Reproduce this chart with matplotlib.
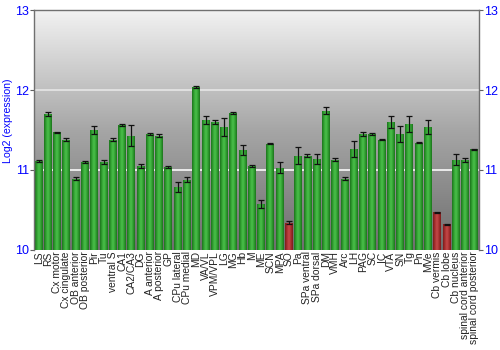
import numpy as np
import matplotlib
matplotlib.use("Agg")
import matplotlib.pyplot as plt
from matplotlib.colors import LinearSegmentedColormap

categories = ["LS", "RS", "Cx motor", "Cx cingulate", "OB anterior", "OB posterior", "Pir", "Tu",
              "ventral S", "CA1", "CA2/CA3", "DG", "A anterior", "A posterior", "GP", "CPu lateral",
              "CPu medial", "MD", "VA/VL", "VPM/VPL", "LG", "MG", "Hb", "M", "ME", "SCN", "MPA", "SO",
              "Pa", "SPa ventral", "SPa dorsal", "DM", "VMH", "Arc", "LH", "PAG", "SC", "IC", "VTA",
              "SN", "Tg", "Pn", "MVe", "Cb vermis", "Cb lobe", "Cb nucleus", "spinal cord anterior",
              "spinal cord posterior"]
values = [11.11, 11.70, 11.47, 11.38, 10.89, 11.10, 11.50, 11.10,
          11.38, 11.56, 11.43, 11.05, 11.45, 11.43, 11.04, 10.79,
          10.88, 12.04, 11.62, 11.60, 11.54, 11.71, 11.25, 11.05, 10.58, 11.33, 11.03, 10.34,
          11.18, 11.18, 11.14, 11.74, 11.13, 10.89, 11.26, 11.45, 11.45, 11.38, 11.60,
          11.45, 11.58, 11.34, 11.54, 10.47, 10.32, 11.13, 11.125,
          11.26]
errors = [0.01, 0.02, 0.01, 0.02, 0.02, 0.01, 0.05, 0.02,
          0.015, 0.01, 0.13, 0.02, 0.01, 0.015, 0.01, 0.06,
          0.03, 0.01, 0.05, 0.03, 0.11, 0.01, 0.06, 0.01, 0.05, 0.01, 0.07, 0.02,
          0.11, 0.02, 0.06, 0.045, 0.02, 0.02, 0.10, 0.03, 0.01, 0.01, 0.07,
          0.10, 0.10, 0.005, 0.085, 0.01, 0.01, 0.07, 0.03,
          0.005]
low_flags = ["SO", "Cb vermis", "Cb lobe"]
yticks = [10, 11, 12, 13]

plt.rcParams['font.family'] = ['Liberation Sans', 'DejaVu Sans']

fig = plt.figure(figsize=(5, 3.5), dpi=100)
ax = fig.add_axes([0.068, 0.286, 0.890, 0.685])

ymin, ymax = 10, 13
n = len(categories)
x = np.arange(n)
ax.set_xlim(-0.5, n - 0.5)
ax.set_ylim(ymin, ymax)

# background gradient
bg = LinearSegmentedColormap.from_list("bg", ["#6e6e6e", "#a6a6a6", "#f2f2f2"])
grad = np.linspace(0, 1, 256).reshape(-1, 1)
ax.imshow(grad, cmap=bg, aspect="auto", extent=[-0.5, n - 0.5, ymin, ymax],
          origin="lower", zorder=0)
for yv in [11, 12]:
    ax.axhline(yv, color="white", lw=1.2, zorder=1, alpha=0.95 if yv == 11 else 0.6)

green = LinearSegmentedColormap.from_list("g", ["#1c721c", "#32a232", "#4cc04c", "#32a232", "#1c721c"])
red = LinearSegmentedColormap.from_list("r", ["#7c1c1c", "#a83030", "#c44a4a", "#a83030", "#7c1c1c"])
hgrad = np.linspace(0, 1, 64).reshape(1, -1)
width = 0.86
bars = ax.bar(x, np.array(values) - ymin, bottom=ymin, width=width, color="none",
              edgecolor="none", zorder=2)
for xi, cat, val, b in zip(x, categories, values, bars):
    cmap = red if cat in low_flags else green
    im = ax.imshow(hgrad, cmap=cmap, aspect="auto",
                   extent=[xi - width / 2, xi + width / 2, ymin, val], zorder=2)
    im.set_clip_path(b)

ax.errorbar(x, values, yerr=errors, fmt="none", ecolor="#111111", elinewidth=0.9,
            capsize=2.2, capthick=0.9, zorder=3)

ax.set_xticks(x)
ax.set_xticklabels(categories, rotation=90, fontsize=7.4, color="#222222")
ax.tick_params(axis="x", length=0, pad=1)
ax.set_yticks(yticks)
ax.set_yticklabels([str(t) for t in yticks], fontsize=9, color="blue")
ax.tick_params(axis="y", length=3, color="#606060", pad=0.5, labelright=True, right=True,
               labelsize=9, labelcolor="blue")
fig.text(0.016, 0.654, "Log2 (expression)", rotation=90, ha="center", va="center",
         fontsize=7.6, color="blue")

for s in ["left", "right", "top"]:
    ax.spines[s].set_color("#707070")
    ax.spines[s].set_linewidth(1)
ax.spines["bottom"].set_visible(False)

fig.savefig("out.png", dpi=100)
